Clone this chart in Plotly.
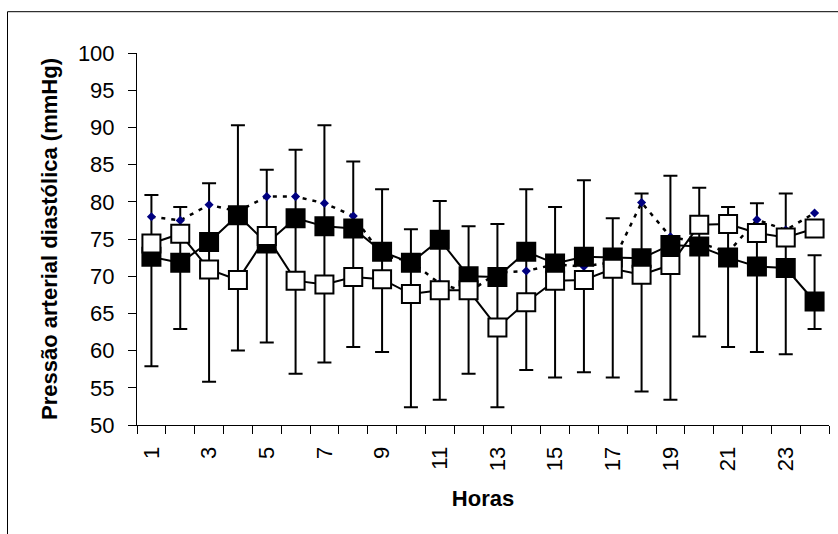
import plotly.graph_objects as go

# ---- data ----
horas = [1, 2, 3, 4, 5, 6, 7, 8, 9, 10, 11, 12, 13, 14, 15, 16, 17, 18, 19, 20, 21, 22, 23, 24]
rotulos_x = ["1", "3", "5", "7", "9", "11", "13", "15", "17", "19", "21", "23"]
valores_rotulos_x = [1, 3, 5, 7, 9, 11, 13, 15, 17, 19, 21, 23]

serie_preta = [72.6, 71.8, 74.6, 78.2, 74.4, 77.8, 76.7, 76.4, 73.3, 71.8, 74.9, 70.0,
               69.9, 73.3, 71.7, 72.6, 72.5, 72.4, 74.2, 74.0, 72.5, 71.3, 71.1, 66.6]
serie_branca = [74.4, 75.7, 70.9, 69.5, 75.4, 69.4, 68.9, 69.9, 69.6, 67.6, 68.1, 68.1,
                63.1, 66.5, 69.4, 69.5, 71.0, 70.2, 71.5, 76.9, 77.0, 75.8, 75.2, 76.4]
serie_pontilhada = [78.0, 77.5, 79.6, 78.7, 80.7, 80.7, 79.8, 78.1, 72.8, 72.0, 69.0, 67.8,
                    70.5, 70.7, 71.6, 71.3, 71.9, 79.9, 75.3, 74.5, 73.2, 77.6, 76.2, 78.5]

erro_superior = [80.9, 79.3, 82.5, 90.3, 84.3, 87.0, 90.3, 85.4, 81.7, 76.3, 80.1, 76.7,
                 77.0, 81.7, 79.3, 82.9, 77.8, 81.1, 83.5, 81.9, 79.3, 79.8, 81.1, 72.8]
erro_inferior = [57.9, 62.9, 55.8, 60.0, 61.1, 56.9, 58.4, 60.5, 59.8, 52.4, 53.4, 56.9,
                 52.4, 57.4, 56.4, 57.1, 56.4, 54.5, 53.4, 61.9, 60.5, 59.8, 59.5, 62.9]

FONT = "Liberation Sans, Arial, sans-serif"

centro = [(a + b) / 2 for a, b in zip(erro_superior, erro_inferior)]
meia = [(a - b) / 2 for a, b in zip(erro_superior, erro_inferior)]

fig = go.Figure()

# error bars (drawn first, behind everything)
fig.add_trace(go.Scatter(
    x=horas, y=centro, mode="markers",
    marker=dict(size=1, color="rgba(0,0,0,0)"),
    error_y=dict(type="data", array=meia, symmetric=True,
                 color="black", thickness=2, width=7),
    showlegend=False, hoverinfo="skip"))

# dotted series
fig.add_trace(go.Scatter(
    x=horas, y=serie_pontilhada, mode="lines+markers",
    line=dict(color="black", width=2.5, dash="4px,6px"),
    marker=dict(symbol="diamond", size=7, color="#000080", line=dict(width=0)),
    showlegend=False))

# black squares
fig.add_trace(go.Scatter(
    x=horas, y=serie_preta, mode="lines+markers",
    line=dict(color="black", width=2),
    marker=dict(symbol="square", size=18, color="black", line=dict(color="black", width=2)),
    showlegend=False))

# white squares
fig.add_trace(go.Scatter(
    x=horas, y=serie_branca, mode="lines+markers",
    line=dict(color="black", width=2),
    marker=dict(symbol="square", size=18, color="white", line=dict(color="black", width=2)),
    showlegend=False))

L, R, T, B = 137, 9, 53, 109
W, H = 838, 534
pw, ph = W - L - R, H - T - B
xl = (7.5 - L) / pw
yt = (H - B - 11.7) / ph

fig.update_layout(
    width=W, height=H,
    margin=dict(l=L, r=R, t=T, b=B),
    paper_bgcolor="white", plot_bgcolor="white",
    font=dict(family=FONT, color="black"),
    xaxis=dict(
        range=[0.5, 24.5], showgrid=False, zeroline=False,
        showline=True, linecolor="black", linewidth=1,
        tickmode="array", tickvals=valores_rotulos_x, ticktext=rotulos_x,
        tickangle=-90, ticks="outside", ticklen=8, tickcolor="rgba(0,0,0,0)",
        tickfont=dict(family=FONT, size=22, color="black"),
        ticklabelstandoff=4,
        minor=dict(tickmode="array", tickvals=[h - 0.5 for h in horas] + [24.5],
                   ticks="outside", ticklen=8, tickcolor="black", tickwidth=1, showgrid=False),
        title=dict(text="Horas", font=dict(family=FONT, size=22, color="black", weight="bold"),
                   standoff=20),
    ),
    yaxis=dict(
        range=[50, 100], dtick=5, tick0=50, showgrid=False, zeroline=False,
        showline=True, linecolor="black", linewidth=1,
        ticks="outside", ticklen=8, tickcolor="black", tickwidth=1,
        tickfont=dict(family=FONT, size=22, color="black"),
        ticklabelstandoff=9,
        title=dict(text="Pressão arterial diastólica (mmHg)",
                   font=dict(family=FONT, size=22, color="black", weight="bold"),
                   standoff=14),
    ),
    shapes=[
        dict(type="line", xref="paper", yref="paper", x0=xl, x1=xl, y0=-0.5, y1=yt,
             line=dict(color="black", width=1)),
        dict(type="line", xref="paper", yref="paper", x0=xl, x1=1.5, y0=yt, y1=yt,
             line=dict(color="black", width=1)),
    ],
)

fig.write_html("out.html", config={"displayModeBar": False},
               post_script="document.body.style.margin='0';")
